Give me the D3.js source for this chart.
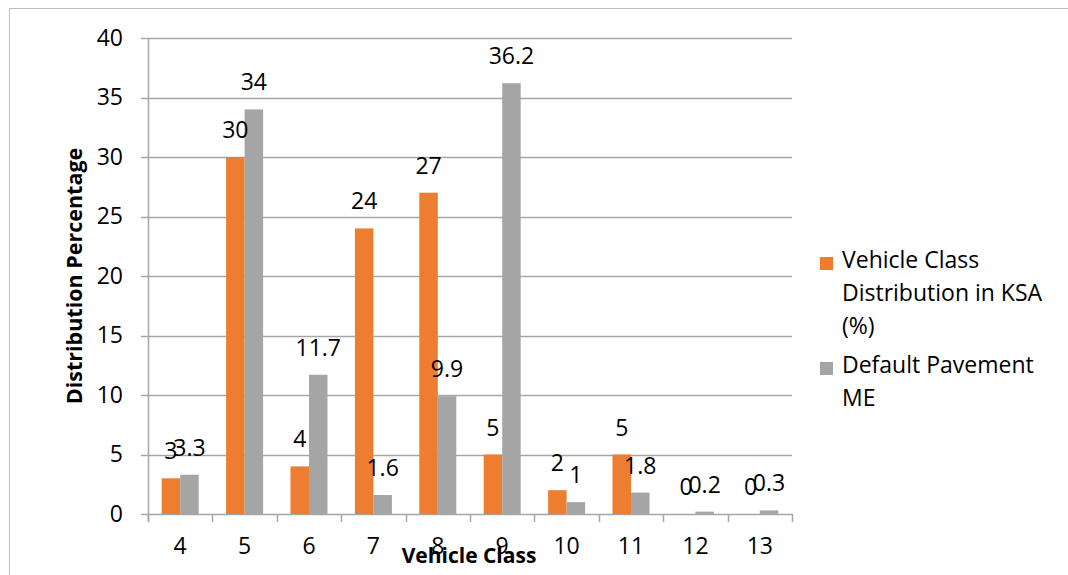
<!DOCTYPE html>
<html>
<head>
<meta charset="utf-8">
<script src="https://cdn.jsdelivr.net/npm/d3@7"></script>
<style>
  body { margin: 0; background: #fff; }
  svg text { font-family: "Open Sans", sans-serif; fill: #000; }
</style>
</head>
<body>
<script>
const WIDTH = 1068;
const HEIGHT = 575;

// chart data
const categories = ["4", "5", "6", "7", "8", "9", "10", "11", "12", "13"];
const seriesNames = ["Vehicle Class Distribution in KSA (%)", "Default Pavement ME"];
const ksaValues = [3, 30, 4, 24, 27, 5, 2, 5, 0, 0];
const pavementValues = [3.3, 34, 11.7, 1.6, 9.9, 36.2, 1, 1.8, 0.2, 0.3];
const yTicks = [0, 5, 10, 15, 20, 25, 30, 35, 40];
const colors = ["#ED7D31", "#A5A5A5"];

const plot = { left: 148, right: 792, top: 38, bottom: 514 };
const BAR_W = 18.5;

const svg = d3.select("body").append("svg")
  .attr("width", WIDTH)
  .attr("height", HEIGHT);

// outer frame (only top and left edges are visible in the crop)
svg.append("path")
  .attr("d", "M9.5," + HEIGHT + " V8.5 H" + WIDTH)
  .attr("fill", "none")
  .attr("stroke", "#bfbfbf")
  .attr("stroke-width", 1);

const xScale = d3.scaleBand().domain(categories).range([plot.left, plot.right]).padding(0);
const xInner = d3.scaleBand().domain([0, 1])
  .range([xScale.bandwidth() / 2 - BAR_W, xScale.bandwidth() / 2 + BAR_W]);
const yScale = d3.scaleLinear().domain([0, 40]).range([plot.bottom, plot.top]);

// gridlines
svg.append("g").selectAll("line")
  .data(yTicks)
  .enter().append("line")
    .attr("x1", plot.left - 7)
    .attr("x2", plot.right)
    .attr("y1", d => Math.round(yScale(d)) + 0.5)
    .attr("y2", d => Math.round(yScale(d)) + 0.5)
    .attr("stroke", "#a6a6a6")
    .attr("stroke-width", 1.5);

// y axis line + labels
svg.append("line")
  .attr("x1", plot.left + 0.5).attr("x2", plot.left + 0.5)
  .attr("y1", plot.top).attr("y2", plot.bottom + 8)
  .attr("stroke", "#a6a6a6").attr("stroke-width", 1.5);

const yAxis = d3.axisLeft(yScale).tickValues(yTicks).tickSize(0).tickPadding(25);
svg.append("g")
  .attr("transform", "translate(" + plot.left + ",0)")
  .call(yAxis)
  .call(g => g.select(".domain").remove())
  .selectAll("text")
    .style("font-size", "23px")
    .style("font-family", "Open Sans, sans-serif")
    .attr("fill", "#000");

// x axis ticks at band boundaries
const boundaries = categories.map(c => xScale(c)).concat([plot.right]);
svg.append("g").selectAll("line")
  .data(boundaries)
  .enter().append("line")
    .attr("x1", d => Math.round(d) + 0.5)
    .attr("x2", d => Math.round(d) + 0.5)
    .attr("y1", plot.bottom)
    .attr("y2", plot.bottom + 8)
    .attr("stroke", "#a6a6a6")
    .attr("stroke-width", 1.5);

const xAxis = d3.axisBottom(xScale).tickSize(0).tickPadding(24);
svg.append("g")
  .attr("transform", "translate(0," + plot.bottom + ")")
  .call(xAxis)
  .call(g => g.select(".domain").remove())
  .selectAll("text")
    .style("font-size", "23px")
    .style("font-family", "Open Sans, sans-serif")
    .attr("fill", "#000");

// bars
const rows = categories.map((c, i) => ({ cat: c, vals: [ksaValues[i], pavementValues[i]] }));
const groups = svg.append("g").selectAll("g")
  .data(rows)
  .enter().append("g")
    .attr("transform", d => "translate(" + xScale(d.cat) + ",0)");

groups.selectAll("rect")
  .data(d => d.vals.map((v, s) => ({ v, s })))
  .enter().append("rect")
    .attr("x", d => xInner(d.s))
    .attr("y", d => yScale(d.v))
    .attr("width", xInner.bandwidth())
    .attr("height", d => yScale(0) - yScale(d.v))
    .attr("fill", d => colors[d.s]);

// data labels
groups.selectAll("text")
  .data(d => d.vals.map((v, s) => ({ v, s })))
  .enter().append("text")
    .attr("x", d => xInner(d.s) + xInner.bandwidth() / 2)
    .attr("y", d => yScale(d.v) - 19)
    .attr("text-anchor", "middle")
    .style("font-size", "23px")
    .text(d => d.v);

// axis titles
svg.append("text")
  .attr("x", 469)
  .attr("y", 563)
  .attr("text-anchor", "middle")
  .style("font-size", "21px")
  .style("font-weight", "bold")
  .text("Vehicle Class");

svg.append("text")
  .attr("transform", "translate(82,276) rotate(-90)")
  .attr("text-anchor", "middle")
  .style("font-size", "21.5px")
  .style("font-weight", "bold")
  .text("Distribution Percentage");

// legend
const legend = [
  { color: colors[0], lines: ["Vehicle Class", "Distribution in KSA", "(%)"], y: 257 },
  { color: colors[1], lines: ["Default Pavement", "ME"], y: 362 }
];
legend.forEach(item => {
  svg.append("rect")
    .attr("x", 820).attr("y", item.y)
    .attr("width", 13).attr("height", 13)
    .attr("fill", item.color);
  svg.append("text")
    .attr("x", 842)
    .attr("y", item.y + 11)
    .style("font-size", "23px")
    .selectAll("tspan")
    .data(item.lines)
    .enter().append("tspan")
      .attr("x", 842)
      .attr("dy", (d, i) => i === 0 ? 0 : 33)
      .text(d => d);
});
</script>
</body>
</html>
